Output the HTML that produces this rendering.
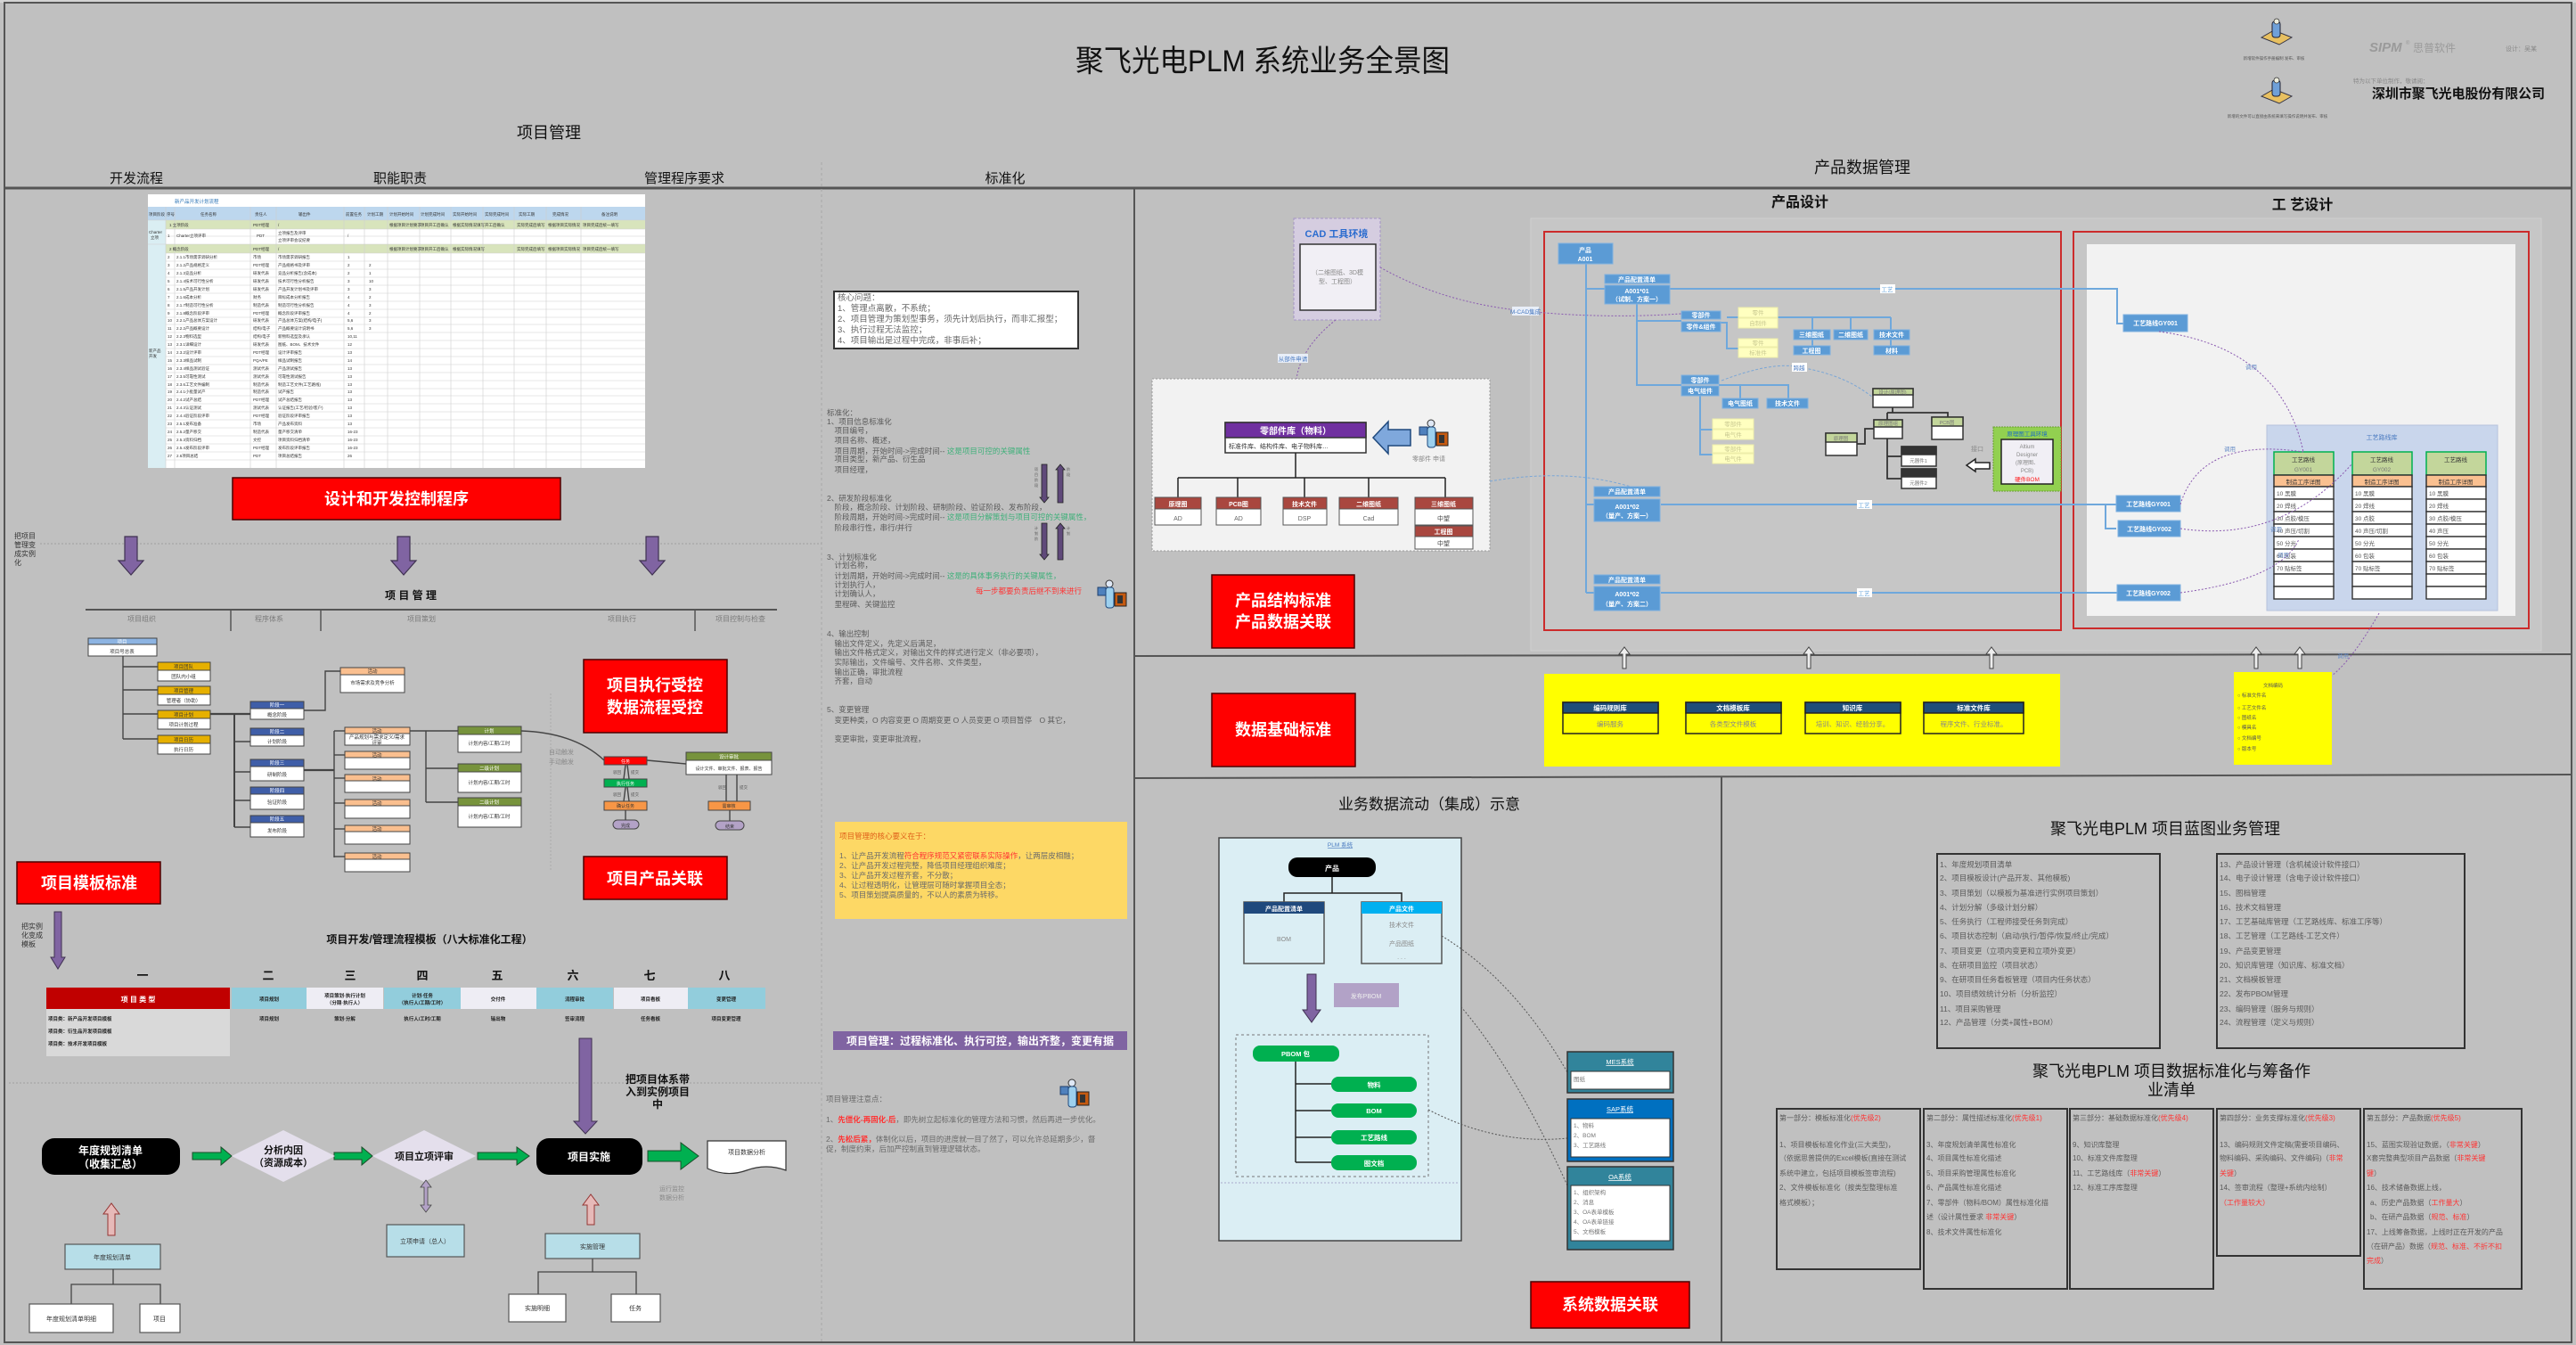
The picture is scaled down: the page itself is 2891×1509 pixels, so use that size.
<!DOCTYPE html>
<html><head><meta charset="utf-8"><title>聚飞光电PLM 系统业务全景图</title>
<style>
html,body{margin:0;padding:0;background:#c0c0c0;}
svg{display:block;}
text{font-family:"Liberation Sans","Noto Sans CJK SC",sans-serif;}
.w{fill:#fff;font-weight:bold;}
.g{fill:#666;}
.sm{font-size:8.5px;fill:#5a5a5a;}
.r{fill:#ff3333;}
.gr{fill:#3fb07a;}
.bt{fill:#fff;font-size:7px;}
</style></head><body>
<svg width="2891" height="1509" viewBox="0 0 2891 1509" xmlns="http://www.w3.org/2000/svg">
<defs>
<g id="person">
 <rect x="0" y="9" width="9" height="9" fill="#4f81bd" stroke="#1f3f6d" stroke-width="1"/>
 <circle cx="13" cy="5" r="4" fill="#dfe8f5" stroke="#333" stroke-width="1"/>
 <rect x="9" y="9" width="9" height="23" rx="3" fill="#9dd0ee" stroke="#1f497d" stroke-width="1"/>
 <rect x="19" y="15" width="13" height="15" fill="#c55a11" stroke="#222" stroke-width="1"/>
 <rect x="22" y="18" width="6" height="9" fill="#333"/>
</g>
<g id="logo">
 <polygon points="0,20 14,12 34,20 20,28" fill="#e8c060" stroke="#334" stroke-width="1"/>
 <rect x="12" y="2" width="9" height="18" rx="3" fill="#6fa0d8" stroke="#223" stroke-width="1"/>
 <circle cx="17" cy="2" r="3" fill="#eed" stroke="#333" stroke-width="0.8"/>
</g>
</defs>

<rect x="0" y="0" width="2891" height="1509" fill="#c0c0c0"/>
<rect x="0" y="0" width="2891" height="3" fill="#d4d4d4"/>
<rect x="5" y="3" width="2881" height="1503" fill="none" stroke="#555" stroke-width="2"/>

<!-- ===== HEADER ===== -->
<text x="1207" y="80" font-size="34" fill="#111" textLength="420" lengthAdjust="spacingAndGlyphs">聚飞光电PLM 系统业务全景图</text>
<text x="616" y="155" font-size="18" fill="#111" text-anchor="middle">项目管理</text>
<text x="2090" y="194" font-size="18" fill="#111" text-anchor="middle">产品数据管理</text>
<text x="153" y="205" font-size="15" fill="#111" text-anchor="middle">开发流程</text>
<text x="449" y="205" font-size="15" fill="#111" text-anchor="middle">职能职责</text>
<text x="768" y="205" font-size="15" fill="#111" text-anchor="middle">管理程序要求</text>
<text x="1128" y="205" font-size="15" fill="#111" text-anchor="middle">标准化</text>
<line x1="5" y1="211" x2="2886" y2="211" stroke="#555" stroke-width="3"/>
<text x="2020" y="232" font-size="16" font-weight="bold" fill="#111" text-anchor="middle">产品设计</text>
<text x="2584" y="235" font-size="16" font-weight="bold" fill="#111" text-anchor="middle">工 艺设计</text>

<!-- top right -->
<use href="#logo" x="2538" y="22"/>
<text x="2552" y="67" font-size="4.5" fill="#555" text-anchor="middle">新增软件操作手册编制 发布、审核</text>
<use href="#logo" x="2538" y="88"/>
<text x="2556" y="132" font-size="4.5" fill="#555" text-anchor="middle">新增的文件可以直接由系统来填写操作说明并发布、审核</text>
<text x="2659" y="58" font-size="15" font-style="italic" font-weight="bold" fill="#9a9a9a">SIPM</text>
<text x="2700" y="50" font-size="6" fill="#9a9a9a">®</text>
<text x="2708" y="58" font-size="12" fill="#9a9a9a">思普软件</text>
<text x="2812" y="57" font-size="7" fill="#888">设计：吴某</text>
<text x="2641" y="93" font-size="6.5" fill="#888">特为以下单位制作，敬请阅：</text>
<text x="2662" y="110" font-size="15" font-weight="bold" fill="#111" font-family="Liberation Serif,Noto Serif CJK SC,serif" textLength="194" lengthAdjust="spacingAndGlyphs">深圳市聚飞光电股份有限公司</text>

<!-- structural lines -->
<line x1="922" y1="182" x2="922" y2="1506" stroke="#a8a8a8" stroke-width="1" stroke-dasharray="3,3"/>
<line x1="1273" y1="211" x2="1273" y2="1506" stroke="#555" stroke-width="2"/>
<line x1="1273" y1="736" x2="2886" y2="734" stroke="#555" stroke-width="2"/>
<line x1="1273" y1="873" x2="2886" y2="869" stroke="#555" stroke-width="2"/>
<line x1="1932" y1="872" x2="1932" y2="1506" stroke="#555" stroke-width="2"/>

<!-- ===== TABLE ===== -->
<rect x="166" y="218" width="558" height="307" fill="#fff"/>
<text x="196" y="228" font-size="5.5" fill="#2e75b6">新产品开发计划流程</text>
<rect x="166" y="232" width="558" height="15" fill="#bdd7ee"/>
<rect x="166" y="247" width="20" height="278" fill="#daeef3"/>
<rect x="186" y="247" width="538" height="10" fill="#d8e4bc"/>
<rect x="186" y="274" width="538" height="10" fill="#d8e4bc"/>
<g stroke="#cfcfcf" stroke-width="0.6">
<line x1="186" y1="232" x2="186" y2="525"/><line x1="196" y1="232" x2="196" y2="525"/><line x1="281" y1="232" x2="281" y2="525"/><line x1="310" y1="232" x2="310" y2="525"/><line x1="386" y1="232" x2="386" y2="525"/><line x1="409" y1="232" x2="409" y2="525"/><line x1="435" y1="232" x2="435" y2="525"/><line x1="471" y1="232" x2="471" y2="525"/><line x1="506" y1="232" x2="506" y2="525"/><line x1="542" y1="232" x2="542" y2="525"/><line x1="577" y1="232" x2="577" y2="525"/><line x1="613" y1="232" x2="613" y2="525"/><line x1="652" y1="232" x2="652" y2="525"/>
<line x1="166" y1="247" x2="724" y2="247"/><line x1="186" y1="257" x2="724" y2="257"/><line x1="186" y1="265" x2="724" y2="265"/><line x1="166" y1="274" x2="724" y2="274"/><line x1="186" y1="284" x2="724" y2="284"/>
<line x1="186" y1="293" x2="724" y2="293"/><line x1="186" y1="302" x2="724" y2="302"/><line x1="186" y1="311" x2="724" y2="311"/><line x1="186" y1="320" x2="724" y2="320"/><line x1="186" y1="329" x2="724" y2="329"/><line x1="186" y1="338" x2="724" y2="338"/><line x1="186" y1="347" x2="724" y2="347"/><line x1="186" y1="356" x2="724" y2="356"/><line x1="186" y1="364" x2="724" y2="364"/><line x1="186" y1="373" x2="724" y2="373"/><line x1="186" y1="382" x2="724" y2="382"/><line x1="186" y1="391" x2="724" y2="391"/><line x1="186" y1="400" x2="724" y2="400"/><line x1="186" y1="409" x2="724" y2="409"/><line x1="186" y1="418" x2="724" y2="418"/><line x1="186" y1="427" x2="724" y2="427"/><line x1="186" y1="436" x2="724" y2="436"/><line x1="186" y1="444" x2="724" y2="444"/><line x1="186" y1="453" x2="724" y2="453"/><line x1="186" y1="462" x2="724" y2="462"/><line x1="186" y1="471" x2="724" y2="471"/><line x1="186" y1="480" x2="724" y2="480"/><line x1="186" y1="489" x2="724" y2="489"/><line x1="186" y1="498" x2="724" y2="498"/><line x1="186" y1="507" x2="724" y2="507"/><line x1="186" y1="516" x2="724" y2="516"/>
</g>
<g font-size="4.5" fill="#333">
<text x="167" y="242">项目阶段</text><text x="187" y="242">序号</text><text x="225" y="242">任务名称</text><text x="286" y="242">责任人</text><text x="335" y="242">输出件</text><text x="388" y="242">前置任务</text><text x="412" y="242">计划工期</text><text x="437" y="242">计划开始时间</text><text x="472" y="242">计划完成时间</text><text x="508" y="242">实际开始时间</text><text x="544" y="242">实际完成时间</text><text x="582" y="242">实际工期</text><text x="620" y="242">完成情况</text><text x="675" y="242">备注说明</text>
<text x="190" y="254">1 立项阶段</text><text x="284" y="254">PDT经理</text><text x="312" y="254">/</text><text x="437" y="254">根据项目计划要求</text><text x="472" y="254">项目开工后确认</text><text x="508" y="254">根据实际情况填写</text><text x="544" y="254">开工后确认</text><text x="580" y="254">实际完成后填写</text><text x="615" y="254">根据项目实际情况</text><text x="654" y="254">项目完成后统一填写</text>
<text x="167" y="262">Charter</text><text x="169" y="268">立项</text><text x="188" y="266">1</text><text x="198" y="266">Charter立项评审</text><text x="288" y="266">PDT</text><text x="312" y="263">立项报告及评审</text><text x="312" y="271">立项评审会议纪要</text><text x="390" y="266">/</text>
<text x="190" y="281">2 概念阶段</text><text x="284" y="281">PDT经理</text><text x="312" y="281">/</text><text x="437" y="281">根据项目计划要求</text><text x="472" y="281">项目开工后确认</text><text x="508" y="281">根据实际情况填写</text><text x="580" y="281">实际完成后填写</text><text x="615" y="281">根据项目实际情况</text><text x="654" y="281">项目完成后统一填写</text>
<text x="188" y="290">2</text><text x="198" y="290">2.1.1市场需求调研分析</text><text x="284" y="290">市场</text><text x="312" y="290">市场需求调研报告</text><text x="390" y="290">1</text>
<text x="188" y="299">3</text><text x="198" y="299">2.1.2产品规格定义</text><text x="284" y="299">PDT经理</text><text x="312" y="299">产品规格书及评审</text><text x="390" y="299">2</text><text x="414" y="299">2</text>
<text x="188" y="308">4</text><text x="198" y="308">2.1.3竞品分析</text><text x="284" y="308">研发代表</text><text x="312" y="308">竞品分析报告(含成本)</text><text x="390" y="308">2</text><text x="414" y="308">1</text>
<text x="188" y="317">5</text><text x="198" y="317">2.1.4技术可行性分析</text><text x="284" y="317">研发代表</text><text x="312" y="317">技术可行性分析报告</text><text x="390" y="317">3</text><text x="414" y="317">10</text>
<text x="188" y="326">6</text><text x="198" y="326">2.1.5产品开发计划</text><text x="284" y="326">研发代表</text><text x="312" y="326">产品开发计划书及评审</text><text x="390" y="326">3</text><text x="414" y="326">3</text>
<text x="188" y="335">7</text><text x="198" y="335">2.1.6成本分析</text><text x="284" y="335">财务</text><text x="312" y="335">目标成本分析报告</text><text x="390" y="335">4</text><text x="414" y="335">2</text>
<text x="188" y="344">8</text><text x="198" y="344">2.1.7制造可行性分析</text><text x="284" y="344">制造代表</text><text x="312" y="344">制造可行性分析报告</text><text x="390" y="344">4</text><text x="414" y="344">3</text>
<text x="188" y="353">9</text><text x="198" y="353">2.1.8概念阶段评审</text><text x="284" y="353">PDT经理</text><text x="312" y="353">概念阶段评审报告</text><text x="390" y="353">4</text><text x="414" y="353">2</text>
<text x="188" y="361">10</text><text x="198" y="361">2.2.1产品总体方案设计</text><text x="284" y="361">研发代表</text><text x="312" y="361">产品总体方案(结构/电子)</text><text x="390" y="361">5,6</text><text x="414" y="361">3</text>
<text x="188" y="370">11</text><text x="198" y="370">2.2.2产品概要设计</text><text x="284" y="370">结构/电子</text><text x="312" y="370">产品概要设计说明书</text><text x="390" y="370">5,6</text><text x="414" y="370">3</text>
<text x="188" y="379">12</text><text x="198" y="379">2.2.3物料选型</text><text x="284" y="379">结构/电子</text><text x="312" y="379">新物料选型及承认</text><text x="390" y="379">10,11</text>
<text x="188" y="388">13</text><text x="198" y="388">2.3.1详细设计</text><text x="284" y="388">研发代表</text><text x="312" y="388">图纸、BOM、技术文件</text><text x="390" y="388">12</text>
<text x="188" y="397">14</text><text x="198" y="397">2.3.2设计评审</text><text x="284" y="397">PDT经理</text><text x="312" y="397">设计评审报告</text><text x="390" y="397">13</text>
<text x="188" y="406">15</text><text x="198" y="406">2.3.3样品试制</text><text x="284" y="406">PQA/PE</text><text x="312" y="406">样品试制报告</text><text x="390" y="406">14</text>
<text x="188" y="415">16</text><text x="198" y="415">2.3.4样品测试验证</text><text x="284" y="415">测试代表</text><text x="312" y="415">产品测试报告</text><text x="390" y="415">13</text>
<text x="188" y="424">17</text><text x="198" y="424">2.3.5可靠性测试</text><text x="284" y="424">测试代表</text><text x="312" y="424">可靠性测试报告</text><text x="390" y="424">13</text>
<text x="188" y="433">18</text><text x="198" y="433">2.3.6工艺文件编制</text><text x="284" y="433">制造代表</text><text x="312" y="433">制造工艺文件(工艺路线)</text><text x="390" y="433">13</text>
<text x="188" y="441">19</text><text x="198" y="441">2.4.1小批量试产</text><text x="284" y="441">制造代表</text><text x="312" y="441">试产报告</text><text x="390" y="441">13</text>
<text x="188" y="450">20</text><text x="198" y="450">2.4.2试产总结</text><text x="284" y="450">PDT经理</text><text x="312" y="450">试产总结报告</text><text x="390" y="450">13</text>
<text x="188" y="459">21</text><text x="198" y="459">2.4.3认证测试</text><text x="284" y="459">测试代表</text><text x="312" y="459">认证报告(工艺/检验/客户)</text><text x="390" y="459">13</text>
<text x="188" y="468">22</text><text x="198" y="468">2.4.4验证阶段评审</text><text x="284" y="468">PDT经理</text><text x="312" y="468">验证阶段评审报告</text><text x="390" y="468">13</text>
<text x="188" y="477">23</text><text x="198" y="477">2.5.1发布准备</text><text x="284" y="477">市场</text><text x="312" y="477">产品发布资料</text><text x="390" y="477">13</text>
<text x="188" y="486">24</text><text x="198" y="486">2.5.2量产移交</text><text x="284" y="486">制造代表</text><text x="312" y="486">量产移交清单</text><text x="390" y="486">16-23</text>
<text x="188" y="495">25</text><text x="198" y="495">2.5.3资料归档</text><text x="284" y="495">文控</text><text x="312" y="495">项目资料归档清单</text><text x="390" y="495">16-23</text>
<text x="188" y="504">26</text><text x="198" y="504">2.5.4发布阶段评审</text><text x="284" y="504">PDT经理</text><text x="312" y="504">发布阶段评审报告</text><text x="390" y="504">16-23</text>
<text x="188" y="513">27</text><text x="198" y="513">2.6项目总结</text><text x="284" y="513">PDT</text><text x="312" y="513">项目总结报告</text><text x="390" y="513">26</text>
<text x="167" y="395">新产品</text><text x="167" y="401">开发</text>
</g>

<!-- ===== LEFT: red control box ===== -->
<rect x="261" y="536" width="368" height="47" fill="#ff0000" stroke="#4a0000" stroke-width="1.5"/>
<text x="445" y="566" font-size="18" class="w" text-anchor="middle">设计和开发控制程序</text>

<g font-size="8" fill="#333"><text x="16" y="604">把项目</text><text x="16" y="614">管理变</text><text x="16" y="624">成实例</text><text x="16" y="634">化</text></g>
<line x1="45" y1="610" x2="922" y2="610" stroke="#a0a0a0" stroke-dasharray="2,2"/>
<g fill="#8064a2" stroke="#3f3151" stroke-width="1.2">
<polygon points="140,602 154,602 154,629 161,629 147,645 133,629 140,629"/>
<polygon points="446,602 460,602 460,629 467,629 453,645 439,629 446,629"/>
<polygon points="725,602 739,602 739,629 746,629 732,645 718,629 725,629"/>
</g>
<text x="461" y="672" font-size="12" font-weight="bold" fill="#111" text-anchor="middle">项 目 管 理</text>
<line x1="96" y1="684" x2="872" y2="684" stroke="#555" stroke-width="2"/>
<g stroke="#555" stroke-width="1.5"><line x1="259" y1="684" x2="259" y2="708"/><line x1="360" y1="684" x2="360" y2="708"/><line x1="780" y1="684" x2="780" y2="708"/></g>
<g font-size="8" fill="#7a7a7a" text-anchor="middle"><text x="159" y="697">项目组织</text><text x="302" y="697">程序体系</text><text x="473" y="697">项目策划</text><text x="698" y="697">项目执行</text><text x="831" y="697">项目控制与检查</text></g>
<line x1="618" y1="778" x2="618" y2="977" stroke="#aaa" stroke-dasharray="2,2"/>

<!-- tree lines -->
<g stroke="#444" stroke-width="1.4" fill="none">
<polyline points="138,736 138,829"/>
<line x1="138" y1="748" x2="177" y2="748"/><line x1="138" y1="774" x2="177" y2="774"/><line x1="138" y1="801" x2="177" y2="801"/><line x1="138" y1="829" x2="177" y2="829"/>
<line x1="236" y1="801" x2="281" y2="801" stroke-width="2.2"/>
<line x1="263" y1="801" x2="263" y2="928" stroke-width="2"/>
<line x1="263" y1="832" x2="281" y2="832"/><line x1="263" y1="866" x2="281" y2="866"/><line x1="263" y1="898" x2="281" y2="898"/><line x1="263" y1="928" x2="281" y2="928"/>
<polyline points="341,797 365,797 365,753 382,753"/>
<line x1="341" y1="864" x2="375" y2="864" stroke-width="2.2"/>
<line x1="375" y1="820" x2="375" y2="962"/>
<line x1="375" y1="820" x2="387" y2="820"/><line x1="375" y1="847" x2="387" y2="847"/><line x1="375" y1="873" x2="387" y2="873"/><line x1="375" y1="901" x2="387" y2="901"/><line x1="375" y1="930" x2="387" y2="930"/><line x1="375" y1="961" x2="387" y2="961"/>
<line x1="460" y1="820" x2="514" y2="820"/><line x1="478" y1="820" x2="478" y2="900"/><line x1="478" y1="862" x2="514" y2="862"/><line x1="478" y1="900" x2="514" y2="900"/>
<path d="M585 820 Q645 822 678 853"/>
<line x1="726" y1="853" x2="770" y2="857"/>
<line x1="700" y1="874" x2="702" y2="858"/><line x1="706" y1="874" x2="704" y2="858"/>
<line x1="700" y1="899" x2="702" y2="883"/><line x1="706" y1="899" x2="704" y2="883"/>
<line x1="702" y1="909" x2="702" y2="920"/>
<line x1="815" y1="869" x2="815" y2="899"/><line x1="827" y1="899" x2="827" y2="869"/>
<line x1="819" y1="909" x2="819" y2="921"/>
</g>
<!-- tree boxes -->
<g stroke="#444" stroke-width="1">
<rect x="99" y="716" width="77" height="20" fill="#fff"/><rect x="99" y="716" width="77" height="7" fill="#8db4e2"/>
<rect x="177" y="743" width="59" height="21" fill="#fff"/><rect x="177" y="743" width="59" height="9" fill="#e6b000"/>
<rect x="177" y="770" width="59" height="21" fill="#fff"/><rect x="177" y="770" width="59" height="9" fill="#e6b000"/>
<rect x="177" y="797" width="59" height="21" fill="#fff"/><rect x="177" y="797" width="59" height="9" fill="#e6b000"/>
<rect x="177" y="825" width="59" height="21" fill="#fff"/><rect x="177" y="825" width="59" height="9" fill="#e6b000"/>
<rect x="281" y="787" width="60" height="20" fill="#fff"/><rect x="281" y="787" width="60" height="8" fill="#3f5ea8"/>
<rect x="281" y="817" width="60" height="20" fill="#fff"/><rect x="281" y="817" width="60" height="8" fill="#3f5ea8"/>
<rect x="281" y="852" width="60" height="24" fill="#fff"/><rect x="281" y="852" width="60" height="8" fill="#3f5ea8"/>
<rect x="281" y="883" width="60" height="25" fill="#fff"/><rect x="281" y="883" width="60" height="8" fill="#3f5ea8"/>
<rect x="281" y="915" width="60" height="24" fill="#fff"/><rect x="281" y="915" width="60" height="8" fill="#3f5ea8"/>
<rect x="382" y="749" width="72" height="28" fill="#fff"/><rect x="382" y="749" width="72" height="8" fill="#fabf8f"/>
<rect x="387" y="816" width="73" height="20" fill="#fff"/><rect x="387" y="816" width="73" height="7" fill="#fabf8f"/>
<rect x="387" y="843" width="73" height="20" fill="#fff"/><rect x="387" y="843" width="73" height="7" fill="#fabf8f"/>
<rect x="387" y="869" width="73" height="20" fill="#fff"/><rect x="387" y="869" width="73" height="7" fill="#fabf8f"/>
<rect x="387" y="897" width="73" height="21" fill="#fff"/><rect x="387" y="897" width="73" height="7" fill="#fabf8f"/>
<rect x="387" y="926" width="73" height="21" fill="#fff"/><rect x="387" y="926" width="73" height="7" fill="#fabf8f"/>
<rect x="387" y="957" width="73" height="21" fill="#fff"/><rect x="387" y="957" width="73" height="7" fill="#fabf8f"/>
<rect x="514" y="815" width="71" height="29" fill="#fff"/><rect x="514" y="815" width="71" height="9" fill="#77933c"/>
<rect x="514" y="857" width="71" height="32" fill="#fff"/><rect x="514" y="857" width="71" height="9" fill="#77933c"/>
<rect x="514" y="895" width="71" height="33" fill="#fff"/><rect x="514" y="895" width="71" height="9" fill="#77933c"/>
<rect x="678" y="849" width="48" height="9" fill="#ff0000"/>
<rect x="678" y="874" width="48" height="9" fill="#00b050"/>
<rect x="678" y="899" width="48" height="10" fill="#f79646"/>
<rect x="688" y="920" width="29" height="10" rx="5" fill="#b3a2c7"/>
<rect x="770" y="844" width="96" height="25" fill="#fff"/><rect x="770" y="844" width="96" height="9" fill="#77933c"/>
<rect x="795" y="899" width="47" height="10" fill="#f79646"/>
<rect x="803" y="921" width="32" height="10" rx="5" fill="#b3a2c7"/>
</g>
<g font-size="5.5" fill="#333" text-anchor="middle">
<text x="137" y="722" fill="#fff">项目</text><text x="137" y="733">项目号总表</text>
<text x="206" y="750">项目团队</text><text x="206" y="761">团队内小组</text>
<text x="206" y="777">项目管理</text><text x="206" y="788">管理者（协助）</text>
<text x="206" y="804">项目计划</text><text x="206" y="815">项目计划过程</text>
<text x="206" y="832">项目日历</text><text x="206" y="843">执行日历</text>
<text x="311" y="793" fill="#fff">阶段一</text><text x="311" y="804">概念阶段</text>
<text x="311" y="823" fill="#fff">阶段二</text><text x="311" y="834">计划阶段</text>
<text x="311" y="858" fill="#fff">阶段三</text><text x="311" y="871">研制阶段</text>
<text x="311" y="889" fill="#fff">阶段四</text><text x="311" y="902">验证阶段</text>
<text x="311" y="921" fill="#fff">阶段五</text><text x="311" y="934">发布阶段</text>
<text x="418" y="755">活动</text><text x="418" y="768">市场需求及竞争分析</text>
<text x="423" y="822">活动</text><text x="423" y="829">产品规划与需求定义/需求</text><text x="423" y="835">评审</text>
<text x="423" y="849">活动</text><text x="423" y="876">活动</text><text x="423" y="903">活动</text><text x="423" y="932">活动</text><text x="423" y="963">活动</text>
<text x="549" y="822" fill="#fff">计划</text><text x="549" y="836">计划内容/工期/工时</text>
<text x="549" y="864" fill="#fff">二级计划</text><text x="549" y="880">计划内容/工期/工时</text>
<text x="549" y="902" fill="#fff">二级计划</text><text x="549" y="918">计划内容/工期/工时</text>
<text x="702" y="856" fill="#fff" font-size="5">任务</text><text x="702" y="881" fill="#fff" font-size="5">执行任务</text><text x="702" y="906" font-size="5">确认任务</text><text x="702" y="928" font-size="5">完成</text>
<text x="818" y="851" fill="#fff">设计审批</text><text x="818" y="864" font-size="5">设计文件、审批文件、报表、报告</text>
<text x="818" y="906" font-size="5">需审核</text><text x="819" y="929" font-size="5">结束</text>
</g>
<g font-size="7" fill="#8a8a8a"><text x="616" y="846">自动触发</text><text x="616" y="857">手动触发</text></g>
<g font-size="4.5" fill="#555"><text x="688" y="868">驳回</text><text x="708" y="868">提交</text><text x="688" y="893">驳回</text><text x="708" y="893">提交</text><text x="806" y="885">驳回</text><text x="830" y="885">提交</text></g>

<rect x="655" y="740" width="161" height="82" fill="#ff0000" stroke="#4a0000" stroke-width="1.5"/>
<text x="735" y="775" font-size="18" class="w" text-anchor="middle">项目执行受控</text>
<text x="735" y="800" font-size="18" class="w" text-anchor="middle">数据流程受控</text>
<rect x="655" y="961" width="161" height="48" fill="#ff0000" stroke="#4a0000" stroke-width="1.5"/>
<text x="735" y="992" font-size="18" class="w" text-anchor="middle">项目产品关联</text>
<rect x="19" y="967" width="161" height="47" fill="#ff0000" stroke="#4a0000" stroke-width="1.5"/>
<text x="100" y="997" font-size="18" class="w" text-anchor="middle">项目模板标准</text>

<polygon points="61,1023 69,1023 69,1074 73,1074 65,1087 57,1074 61,1074" fill="#8064a2" stroke="#3f3151"/>
<g font-size="8" fill="#333"><text x="24" y="1042">把实例</text><text x="24" y="1052">化变成</text><text x="24" y="1062">模板</text></g>

<text x="482" y="1058" font-size="12" font-weight="bold" fill="#111" text-anchor="middle">项目开发/管理流程模板（八大标准化工程）</text>
<g font-size="13" font-weight="bold" fill="#111" text-anchor="middle">
<text x="160" y="1099">一</text><text x="301" y="1099">二</text><text x="393" y="1099">三</text><text x="474" y="1099">四</text><text x="558" y="1099">五</text><text x="643" y="1099">六</text><text x="729" y="1099">七</text><text x="813" y="1099">八</text></g>
<rect x="52" y="1108" width="206" height="24" fill="#c00000"/>
<rect x="260" y="1108" width="84" height="24" fill="#92cddc"/>
<rect x="344" y="1108" width="86" height="24" fill="#eeedf4"/>
<rect x="431" y="1108" width="86" height="24" fill="#92cddc"/>
<rect x="517" y="1108" width="85" height="24" fill="#eeedf4"/>
<rect x="602" y="1108" width="86" height="24" fill="#92cddc"/>
<rect x="689" y="1108" width="83" height="24" fill="#eeedf4"/>
<rect x="772" y="1108" width="87" height="24" fill="#92cddc"/>
<rect x="52" y="1132" width="206" height="53" fill="#d9d9d9"/>
<text x="155" y="1124" font-size="8" class="w" text-anchor="middle">项 目 类 型</text>
<g font-size="5.5" fill="#222" text-anchor="middle" font-weight="bold">
<text x="302" y="1123">项目规划</text><text x="387" y="1119">项目策划·执行计划</text><text x="387" y="1127">（分期·执行人）</text><text x="474" y="1119">计划·任务</text><text x="474" y="1127">（执行人/工期/工时）</text><text x="559" y="1123">交付件</text><text x="645" y="1123">流程审批</text><text x="730" y="1123">项目看板</text><text x="815" y="1123">变更管理</text>
<text x="302" y="1145">项目规划</text><text x="387" y="1145">策划·分解</text><text x="474" y="1145">执行人/工时/工期</text><text x="559" y="1145">输出物</text><text x="645" y="1145">签审流程</text><text x="730" y="1145">任务看板</text><text x="815" y="1145">项目变更管理</text>
</g>
<g font-size="5.5" fill="#222" font-weight="bold"><text x="54" y="1145">项目类：新产品开发项目模板</text><text x="54" y="1159">项目类：衍生品开发项目模板</text><text x="54" y="1173">项目类：技术开发项目模板</text></g>

<line x1="10" y1="1215" x2="922" y2="1215" stroke="#a0a0a0" stroke-dasharray="2,2"/>
<polygon points="650,1165 664,1165 664,1258 670,1258 657,1272 644,1258 650,1258" fill="#8064a2" stroke="#3f3151"/>
<g font-size="12" font-weight="bold" fill="#111" text-anchor="middle"><text x="738" y="1215">把项目体系带</text><text x="738" y="1229">入到实例项目</text><text x="738" y="1243">中</text></g>

<!-- flow -->
<rect x="47" y="1277" width="155" height="41" rx="14" fill="#000"/>
<text x="124" y="1295" font-size="12" class="w" text-anchor="middle">年度规划清单</text>
<text x="124" y="1310" font-size="12" class="w" text-anchor="middle">（收集汇总）</text>
<g fill="#00b050" stroke="#1d4d2a" stroke-width="1">
<polygon points="216,1293 248,1293 248,1287 260,1297 248,1307 248,1301 216,1301"/>
<polygon points="375,1293 406,1293 406,1287 418,1297 406,1307 406,1301 375,1301"/>
<polygon points="536,1293 580,1293 580,1287 594,1297 580,1307 580,1301 536,1301"/>
<polygon points="727,1291 764,1291 764,1282 784,1297 764,1312 764,1303 727,1303"/>
</g>
<polygon points="318,1268 376,1297 318,1326 260,1297" fill="#e4dfec"/>
<text x="318" y="1294" font-size="11" font-weight="bold" fill="#111" text-anchor="middle">分析内因</text>
<text x="318" y="1308" font-size="11" font-weight="bold" fill="#111" text-anchor="middle">（资源成本）</text>
<polygon points="476,1268 534,1297 476,1326 418,1297" fill="#e4dfec"/>
<text x="476" y="1301" font-size="11" font-weight="bold" fill="#111" text-anchor="middle">项目立项评审</text>
<rect x="602" y="1277" width="119" height="41" rx="14" fill="#000"/>
<text x="661" y="1302" font-size="12" class="w" text-anchor="middle">项目实施</text>
<path d="M794 1280 H882 V1313 Q860 1305 838 1313 Q816 1321 794 1311 Z" fill="#fff" stroke="#333" stroke-width="1.2"/>
<text x="838" y="1295" font-size="7" fill="#333" text-anchor="middle">项目数据分析</text>
<g font-size="7" fill="#8a8a8a"><text x="740" y="1336">运行监控</text><text x="740" y="1346">数据分析</text></g>
<g fill="#e6b9b8" stroke="#943634" stroke-width="1">
<polygon points="121,1386 129,1386 129,1362 134,1362 125,1350 116,1362 121,1362"/>
<polygon points="659,1374 667,1374 667,1352 672,1352 663,1340 654,1352 659,1352"/>
</g>
<polygon points="478,1324 484,1332 480,1332 480,1352 484,1352 478,1360 472,1352 476,1352 476,1332 472,1332" fill="#b3a2c7" stroke="#444" stroke-width="0.8"/>
<rect x="434" y="1374" width="87" height="36" fill="#b7dee8" stroke="#555" stroke-width="1.2"/>
<text x="477" y="1395" font-size="7" fill="#333" text-anchor="middle">立项申请（总人）</text>
<rect x="73" y="1396" width="107" height="28" fill="#b7dee8" stroke="#555" stroke-width="1.2"/>
<text x="126" y="1413" font-size="7" fill="#333" text-anchor="middle">年度规划清单</text>
<g stroke="#444" stroke-width="1.3" fill="none"><polyline points="127,1424 127,1441"/><polyline points="80,1463 80,1441 180,1441 180,1463"/><polyline points="665,1412 665,1427"/><polyline points="604,1452 604,1427 714,1427 714,1452"/></g>
<rect x="33" y="1463" width="94" height="32" fill="#fff" stroke="#555" stroke-width="1.2"/>
<text x="80" y="1482" font-size="7" fill="#333" text-anchor="middle">年度规划清单明细</text>
<rect x="157" y="1463" width="45" height="32" fill="#fff" stroke="#555" stroke-width="1.2"/>
<text x="179" y="1482" font-size="7" fill="#333" text-anchor="middle">项目</text>
<rect x="612" y="1384" width="106" height="28" fill="#b7dee8" stroke="#555" stroke-width="1.2"/>
<text x="665" y="1401" font-size="7" fill="#333" text-anchor="middle">实施管理</text>
<rect x="571" y="1452" width="64" height="31" fill="#fff" stroke="#555" stroke-width="1.2"/>
<text x="603" y="1470" font-size="7" fill="#333" text-anchor="middle">实施明细</text>
<rect x="686" y="1452" width="55" height="31" fill="#fff" stroke="#555" stroke-width="1.2"/>
<text x="713" y="1470" font-size="7" fill="#333" text-anchor="middle">任务</text>

<!-- ===== MIDDLE: standardization ===== -->
<rect x="936" y="327" width="274" height="64" fill="#fff" stroke="#333" stroke-width="2"/>
<g font-size="9.5" fill="#666"><text x="940" y="337">核心问题：</text><text x="940" y="349">1、管理点离散，不系统；</text><text x="940" y="361">2、项目管理为策划型事务，须先计划后执行，而非汇报型；</text><text x="940" y="373">3、执行过程无法监控；</text><text x="940" y="385">4、项目输出是过程中完成，非事后补；</text></g>
<g class="sm">
<text x="928" y="466">标准化：</text>
<text x="928" y="476">1、项目信息标准化</text>
<text x="928" y="486">　项目编号，</text>
<text x="928" y="497">　项目名称、概述，</text>
<text x="928" y="509">　项目周期，开始时间-&gt;完成时间-- <tspan class="gr">这是项目可控的关键属性</tspan></text>
<text x="928" y="518">　项目类型，新产品、衍生品</text>
<text x="928" y="530">　项目经理，</text>
<text x="928" y="562">2、研发阶段标准化</text>
<text x="928" y="572">　阶段，概念阶段、计划阶段、研制阶段、验证阶段、发布阶段，</text>
<text x="928" y="583">　阶段周期，开始时间-&gt;完成时间-- <tspan class="gr">这是项目分解策划与项目可控的关键属性，</tspan></text>
<text x="928" y="595">　阶段串行性，串行/并行</text>
<text x="928" y="628">3、计划标准化</text>
<text x="928" y="637">　计划名称，</text>
<text x="928" y="649">　计划周期，开始时间-&gt;完成时间-- <tspan class="gr">这是的具体事务执行的关键属性，</tspan></text>
<text x="928" y="659">　计划执行人，</text>
<text x="928" y="669">　计划确认人，</text>
<text x="928" y="681">　里程碑、关键监控</text>
<text x="928" y="714">4、输出控制</text>
<text x="928" y="725">　输出文件定义，先定义后满足，</text>
<text x="928" y="735">　输出文件格式定义，对输出文件的样式进行定义（非必要项），</text>
<text x="928" y="746">　实际输出，文件编号、文件名称、文件类型，</text>
<text x="928" y="757">　输出正确，审批流程</text>
<text x="928" y="767">　齐套，自动</text>
<text x="928" y="799">5、变更管理</text>
<text x="928" y="811">　变更种类，O 内容变更 O 周期变更 O 人员变更 O 项目暂停　O 其它，</text>
<text x="928" y="832">　变更审批，变更审批流程，</text>
</g>
<text x="1095" y="666" font-size="8.5" class="r">每一步都要负责后继不到来进行</text>
<g fill="#5f497a" stroke="#222" stroke-width="0.8">
<polygon points="1169,521 1175,521 1175,558 1177,558 1172,564 1167,558 1169,558"/>
<polygon points="1187,564 1193,564 1193,527 1195,527 1190,521 1185,527 1187,527"/>
<polygon points="1169,587 1175,587 1175,622 1177,622 1172,628 1167,622 1169,622"/>
<polygon points="1187,628 1193,628 1193,593 1195,593 1190,587 1185,593 1187,593"/>
</g>
<g font-size="4" fill="#555"><text x="1161" y="528">项</text><text x="1161" y="534">目</text><text x="1161" y="540">阶</text><text x="1161" y="546">段</text><text x="1197" y="528">阶</text><text x="1197" y="534">段</text><text x="1161" y="594">计</text><text x="1161" y="600">划</text><text x="1161" y="606">阶</text><text x="1197" y="594">计</text><text x="1197" y="600">划</text></g>
<use href="#person" x="1232" y="650"/>

<rect x="937" y="922" width="328" height="109" fill="#fdd865"/>
<g font-size="8.5" fill="#6a6a6a">
<text x="942" y="941" fill="#e0601a">项目管理的核心要义在于：</text>
<text x="942" y="963">1、让产品开发流程<tspan class="r">符合程序规范又紧密联系实际操作</tspan>，让两层皮相融；</text>
<text x="942" y="974">2、让产品开发过程完整，降低项目经理组织难度；</text>
<text x="942" y="985">3、让产品开发过程齐套，不分散；</text>
<text x="942" y="996">4、让过程透明化，让管理层可随时掌握项目全态；</text>
<text x="942" y="1007">5、项目策划提高质量的，不以人的素质为转移。</text>
</g>
<rect x="935" y="1157" width="330" height="21" fill="#8064a2"/>
<text x="1100" y="1172" font-size="12" class="w" text-anchor="middle">项目管理：过程标准化、执行可控，输出齐整，变更有据</text>
<use href="#person" x="1190" y="1210"/>
<g font-size="8.5" fill="#6a6a6a">
<text x="927" y="1236">项目管理注意点：</text>
<text x="927" y="1259">1、<tspan class="r" font-weight="bold">先僵化-再固化-后</tspan>，即先树立起标准化的管理方法和习惯，然后再进一步优化。</text>
<text x="927" y="1281">2、<tspan class="r" font-weight="bold">先松后紧，</tspan>体制化以后，项目的进度就一目了然了，可以允许总延期多少，督</text>
<text x="927" y="1292">促，制度约束，后加严控制直到管理逻辑状态。</text>
</g>

<!-- ===== PDM TOP ===== -->
<rect x="1718" y="245" width="1134" height="485" fill="#c6c6c6" stroke="#cfcfcf"/>
<rect x="1733" y="260" width="580" height="447" fill="none" stroke="#cc2b2b" stroke-width="2"/>
<rect x="2327" y="260" width="511" height="445" fill="none" stroke="#cc2b2b" stroke-width="2"/>
<rect x="2342" y="274" width="481" height="417" fill="#f2f2f2"/>

<!-- CAD -->
<rect x="1452" y="245" width="97" height="114" fill="#d5cde0" stroke="#a493c4" stroke-dasharray="3,2"/>
<text x="1500" y="266" font-size="11" font-weight="bold" fill="#2b6ccf" text-anchor="middle">CAD 工具环境</text>
<rect x="1459" y="274" width="85" height="74" fill="#f1eff5" stroke="#333" stroke-width="1.5"/>
<text x="1501" y="308" font-size="7" fill="#888" text-anchor="middle">（二维图纸、3D模</text>
<text x="1501" y="318" font-size="7" fill="#888" text-anchor="middle">型、工程图）</text>
<path d="M1549 300 Q1620 340 1712 349 Q1800 358 1887 352" fill="none" stroke="#8a5ab0" stroke-dasharray="2,2" stroke-width="1"/>
<rect x="1697" y="344" width="30" height="10" fill="#e8eef8"/>
<text x="1712" y="352" font-size="6.5" fill="#4a7ac0" text-anchor="middle">M-CAD集成</text>
<path d="M1499 359 Q1460 390 1455 425" fill="none" stroke="#8a5ab0" stroke-dasharray="2,2"/>
<rect x="1434" y="397" width="34" height="10" fill="#e8eef8"/>
<text x="1451" y="405" font-size="6.5" fill="#4a7ac0" text-anchor="middle">从部件申请</text>

<!-- part library panel -->
<rect x="1293" y="425" width="379" height="193" fill="#f2f2f2" stroke="#999" stroke-dasharray="2,2"/>
<rect x="1375" y="474" width="158" height="34" fill="#fff" stroke="#333" stroke-width="1.5"/>
<rect x="1375" y="474" width="158" height="17" fill="#7030a0" stroke="#333" stroke-width="1.5"/>
<text x="1454" y="487" font-size="10" class="w" text-anchor="middle">零部件库（物料）</text>
<text x="1379" y="503" font-size="7" fill="#333">标准件库、结构件库、电子物料库…</text>
<polygon points="1541,491 1558,473 1558,482 1583,482 1583,500 1558,500 1558,509" fill="#7fa8dc" stroke="#1f497d" stroke-width="1.5"/>
<use href="#person" x="1593" y="470"/>
<text x="1585" y="517" font-size="7" fill="#888">零部件 申请</text>
<g stroke="#222" stroke-width="1.5" fill="none"><line x1="1454" y1="508" x2="1454" y2="536"/><line x1="1322" y1="536" x2="1622" y2="536"/>
<line x1="1322" y1="536" x2="1322" y2="558"/><line x1="1389" y1="536" x2="1389" y2="558"/><line x1="1464" y1="536" x2="1464" y2="558"/><line x1="1536" y1="536" x2="1536" y2="558"/><line x1="1622" y1="536" x2="1622" y2="558"/></g>
<g stroke="#555" stroke-width="1">
<rect x="1296" y="558" width="52" height="31" fill="#fff"/><rect x="1296" y="558" width="52" height="13" fill="#a9473f"/>
<rect x="1365" y="558" width="50" height="31" fill="#fff"/><rect x="1365" y="558" width="50" height="13" fill="#a9473f"/>
<rect x="1440" y="558" width="49" height="31" fill="#fff"/><rect x="1440" y="558" width="49" height="13" fill="#a9473f"/>
<rect x="1503" y="558" width="66" height="31" fill="#fff"/><rect x="1503" y="558" width="66" height="13" fill="#a9473f"/>
<rect x="1588" y="558" width="65" height="31" fill="#fff"/><rect x="1588" y="558" width="65" height="13" fill="#a9473f"/>
<rect x="1588" y="590" width="65" height="26" fill="#fff"/><rect x="1588" y="590" width="65" height="12" fill="#a9473f"/>
</g>
<g font-size="7" text-anchor="middle">
<text x="1322" y="568" class="w">原理图</text><text x="1322" y="584" fill="#666">AD</text>
<text x="1390" y="568" class="w">PCB图</text><text x="1390" y="584" fill="#666">AD</text>
<text x="1464" y="568" class="w">技术文件</text><text x="1464" y="584" fill="#666">DSP</text>
<text x="1536" y="568" class="w">二维图纸</text><text x="1536" y="584" fill="#666">Cad</text>
<text x="1620" y="568" class="w">三维图纸</text><text x="1620" y="584" fill="#444">中望</text>
<text x="1620" y="599" class="w">工程图</text><text x="1620" y="612" fill="#444">中望</text>
</g>
<rect x="1360" y="645" width="160" height="82" fill="#ff0000" stroke="#4a0000" stroke-width="1.5"/>
<text x="1440" y="680" font-size="18" class="w" text-anchor="middle">产品结构标准</text>
<text x="1440" y="704" font-size="18" class="w" text-anchor="middle">产品数据关联</text>

<!-- product design inside -->
<g stroke="#6fa8dc" stroke-width="2" fill="none">
<line x1="1780" y1="296" x2="1780" y2="665"/>
<line x1="1780" y1="324" x2="1801" y2="324"/><polyline points="1874,324 2376,324 2376,363 2383,363"/>
<line x1="1780" y1="566" x2="1790" y2="566"/><line x1="1864" y1="566" x2="2375" y2="566"/><polyline points="2363,566 2363,593 2375,593"/>
<line x1="1780" y1="665" x2="1790" y2="665"/><line x1="1864" y1="665" x2="2376" y2="665"/>
<polyline points="1837,341 1837,432 1887,432"/><line x1="1837" y1="360" x2="1887" y2="360"/>
<polyline points="1931,362 1938,362 1938,391 1951,391"/><line x1="1938" y1="356" x2="1951" y2="356"/>
<line x1="1938" y1="356" x2="2122" y2="356"/><line x1="2034" y1="356" x2="2034" y2="370"/><line x1="2077" y1="356" x2="2077" y2="370"/><line x1="2122" y1="356" x2="2122" y2="370"/>
<line x1="2034" y1="381" x2="2034" y2="388"/><line x1="2122" y1="381" x2="2122" y2="388"/>
<polyline points="1929,432 2007,432 2007,447"/><line x1="1953" y1="432" x2="1953" y2="447"/>
<polyline points="1908,444 1908,510 1922,510"/><line x1="1908" y1="482" x2="1922" y2="482"/>
</g>
<path d="M1932 427 Q1990 405 2019 412 Q2070 420 2102 446" fill="none" stroke="#7aa6d6" stroke-dasharray="3,2"/>
<rect x="2011" y="407" width="17" height="10" fill="#fff"/><text x="2019" y="415" font-size="6.5" fill="#4a7ac0" text-anchor="middle">跨越</text>
<path d="M1672 540 Q1760 525 1830 546" fill="none" stroke="#7aa6d6" stroke-dasharray="3,2"/>
<g fill="#5b9bd5" stroke="#7fb0e0" stroke-width="1">
<rect x="1749" y="273" width="61" height="23"/>
<rect x="1801" y="308" width="73" height="10"/><rect x="1801" y="320" width="73" height="21"/>
<rect x="1887" y="349" width="44" height="9"/><rect x="1887" y="361" width="44" height="11"/>
<rect x="2013" y="370" width="41" height="11"/><rect x="2058" y="370" width="38" height="11"/><rect x="2103" y="370" width="40" height="11"/>
<rect x="2013" y="388" width="41" height="10"/><rect x="2103" y="388" width="40" height="10"/>
<rect x="1887" y="421" width="42" height="10"/><rect x="1887" y="433" width="42" height="11"/>
<rect x="1933" y="447" width="40" height="11"/><rect x="1983" y="447" width="46" height="11"/>
<rect x="1789" y="546" width="74" height="11"/><rect x="1789" y="560" width="74" height="25"/>
<rect x="1789" y="645" width="74" height="10"/><rect x="1789" y="658" width="74" height="27"/>
<rect x="2383" y="353" width="72" height="19"/>
<rect x="2375" y="556" width="72" height="18"/><rect x="2377" y="584" width="70" height="18"/>
<rect x="2376" y="656" width="71" height="18"/>
</g>
<g fill="#ffffc0" stroke="#eeeeaa" stroke-width="1">
<rect x="1951" y="345" width="44" height="11"/><rect x="1951" y="357" width="44" height="11"/>
<rect x="1951" y="380" width="44" height="9"/><rect x="1951" y="390" width="44" height="11"/>
<rect x="1922" y="470" width="46" height="11"/><rect x="1922" y="482" width="46" height="11"/>
<rect x="1922" y="499" width="46" height="9"/><rect x="1922" y="509" width="46" height="11"/>
</g>
<g font-size="7" fill="#fff" text-anchor="middle" font-weight="bold">
<text x="1779" y="283">产品</text><text x="1779" y="293">A001</text>
<text x="1837" y="316">产品配置清单</text><text x="1837" y="329">A001*01</text><text x="1837" y="338">（试制、方案一）</text>
<text x="1909" y="356">零部件</text><text x="1909" y="369">零件&amp;组件</text>
<text x="2033" y="378">三维图纸</text><text x="2077" y="378">二维图纸</text><text x="2123" y="378">技术文件</text>
<text x="2033" y="396">工程图</text><text x="2123" y="396">材料</text>
<text x="1908" y="429">零部件</text><text x="1908" y="441">电气组件</text>
<text x="1953" y="455">电气图纸</text><text x="2006" y="455">技术文件</text>
<text x="1826" y="554">产品配置清单</text><text x="1826" y="571">A001*02</text><text x="1826" y="581">（量产、方案一）</text>
<text x="1826" y="653">产品配置清单</text><text x="1826" y="669">A001*02</text><text x="1826" y="680">（量产、方案二）</text>
<text x="2419" y="365">工艺路线GY001</text><text x="2411" y="568">工艺路线GY001</text><text x="2412" y="596">工艺路线GY002</text><text x="2411" y="668">工艺路线GY002</text>
</g>
<g font-size="6.5" fill="#c8c890" text-anchor="middle">
<text x="1973" y="353">零件</text><text x="1973" y="365">自制件</text><text x="1973" y="387">零件</text><text x="1973" y="398">标准件</text>
<text x="1945" y="478">零部件</text><text x="1945" y="490">电气件</text><text x="1945" y="506">零部件</text><text x="1945" y="517">电气件</text>
</g>
<g fill="#fff"><rect x="2110" y="319" width="17" height="10"/><rect x="2084" y="561" width="17" height="10"/><rect x="2084" y="660" width="17" height="10"/></g>
<g font-size="6.5" fill="#6fa8dc" text-anchor="middle"><text x="2118" y="327">工艺</text><text x="2092" y="569">工艺</text><text x="2092" y="668">工艺</text></g>

<!-- electrical cluster -->
<g stroke="#333" stroke-width="1.8" fill="none">
<polyline points="2124,457 2124,463 2118,463 2186,463 2186,468"/><line x1="2118" y1="463" x2="2118" y2="471"/>
<polyline points="2084,498 2093,498 2093,481 2103,481"/>
<polyline points="2118,492 2118,537 2134,537"/><line x1="2118" y1="512" x2="2134" y2="512"/>
</g>
<g stroke="#333" stroke-width="1.5">
<rect x="2102" y="436" width="45" height="21" fill="#fff"/><rect x="2102" y="436" width="45" height="7" fill="#c3d69b"/>
<rect x="2103" y="471" width="32" height="21" fill="#fff"/><rect x="2103" y="471" width="32" height="8" fill="#c3d69b"/>
<rect x="2168" y="468" width="35" height="25" fill="#fff"/><rect x="2168" y="468" width="35" height="10" fill="#c3d69b"/>
<rect x="2049" y="486" width="35" height="25" fill="#fff"/><rect x="2049" y="486" width="35" height="10" fill="#c3d69b"/>
<rect x="2134" y="501" width="39" height="22" fill="#fff"/><rect x="2134" y="501" width="39" height="9" fill="#333"/>
<rect x="2134" y="526" width="39" height="22" fill="#fff"/><rect x="2134" y="526" width="39" height="9" fill="#333"/>
</g>
<g font-size="5.5" text-anchor="middle" fill="#777">
<text x="2124" y="442">设计(原理图)</text><text x="2119" y="477">原理图组</text><text x="2185" y="476">PCB图</text><text x="2066" y="494">原理图</text><text x="2153" y="519">元器件1</text><text x="2153" y="544">元器件2</text>
</g>
<text x="2212" y="506" font-size="7" fill="#888">接口</text>
<polygon points="2207,522 2217,515 2217,519 2233,519 2233,526 2217,526 2217,529" fill="#fff" stroke="#222" stroke-width="1.5"/>
<rect x="2237" y="479" width="76" height="72" fill="#92d050" stroke="#6aa030" stroke-dasharray="2,1"/>
<text x="2275" y="489" font-size="6.5" fill="#1f6fc0" text-anchor="middle">原理图工具环境</text>
<rect x="2246" y="493" width="58" height="50" fill="#f1eff5" stroke="#222" stroke-width="1.5"/>
<g font-size="6" fill="#888" text-anchor="middle"><text x="2275" y="503">Altium</text><text x="2275" y="512">Designer</text><text x="2275" y="521">(原理图、</text><text x="2275" y="530">PCB)</text></g>
<text x="2275" y="540" font-size="6.5" fill="#ff2020" text-anchor="middle">硬件BOM</text>

<!-- 工艺 library -->
<rect x="2544" y="477" width="259" height="208" fill="#c9d6ec" stroke="#b5c3dc"/>
<text x="2673" y="493" font-size="7" fill="#4a7ac0" text-anchor="middle">工艺路线库</text>
<g stroke="#333" stroke-width="1.5">
<rect x="2552" y="507" width="67" height="26" fill="#c3d69b" stroke="#00b050"/><rect x="2552" y="533" width="67" height="13" fill="#fac090"/>
<rect x="2640" y="507" width="67" height="26" fill="#c3d69b" stroke="#00b050"/><rect x="2640" y="533" width="67" height="13" fill="#fac090"/>
<rect x="2723" y="507" width="67" height="26" fill="#c3d69b" stroke="#00b050"/><rect x="2723" y="533" width="67" height="13" fill="#fac090"/>
</g>
<g fill="#fff" stroke="#333" stroke-width="1.4">
<rect x="2552" y="546" width="67" height="14"/><rect x="2552" y="560" width="67" height="14"/><rect x="2552" y="574" width="67" height="14"/><rect x="2552" y="588" width="67" height="14"/><rect x="2552" y="602" width="67" height="14"/><rect x="2552" y="616" width="67" height="14"/><rect x="2552" y="630" width="67" height="14"/><rect x="2552" y="644" width="67" height="14"/><rect x="2552" y="658" width="67" height="14"/>
<rect x="2640" y="546" width="67" height="14"/><rect x="2640" y="560" width="67" height="14"/><rect x="2640" y="574" width="67" height="14"/><rect x="2640" y="588" width="67" height="14"/><rect x="2640" y="602" width="67" height="14"/><rect x="2640" y="616" width="67" height="14"/><rect x="2640" y="630" width="67" height="14"/><rect x="2640" y="644" width="67" height="14"/><rect x="2640" y="658" width="67" height="14"/>
<rect x="2723" y="546" width="67" height="14"/><rect x="2723" y="560" width="67" height="14"/><rect x="2723" y="574" width="67" height="14"/><rect x="2723" y="588" width="67" height="14"/><rect x="2723" y="602" width="67" height="14"/><rect x="2723" y="616" width="67" height="14"/><rect x="2723" y="630" width="67" height="14"/><rect x="2723" y="644" width="67" height="14"/><rect x="2723" y="658" width="67" height="14"/>
</g>
<g font-size="6.5" fill="#333" text-anchor="middle">
<text x="2585" y="518">工艺路线</text><text x="2585" y="529" fill="#777">GY001</text><text x="2673" y="518">工艺路线</text><text x="2673" y="529" fill="#777">GY002</text><text x="2756" y="518">工艺路线</text>
<text x="2585" y="543">制造工序详图</text><text x="2673" y="543">制造工序详图</text><text x="2756" y="543">制造工序详图</text>
</g>
<g font-size="6.5" fill="#555">
<text x="2555" y="556">10 黑膜</text><text x="2555" y="570">20 焊线</text><text x="2555" y="584">30 点胶/模压</text><text x="2555" y="598">40 声压/切割</text><text x="2555" y="612">50 分光</text><text x="2555" y="626">60 包装</text><text x="2555" y="640">70 贴标签</text>
<text x="2643" y="556">10 黑膜</text><text x="2643" y="570">20 焊线</text><text x="2643" y="584">30 点胶</text><text x="2643" y="598">40 声压/切割</text><text x="2643" y="612">50 分光</text><text x="2643" y="626">60 包装</text><text x="2643" y="640">70 贴标签</text>
<text x="2726" y="556">10 黑膜</text><text x="2726" y="570">20 焊线</text><text x="2726" y="584">30 点胶/模压</text><text x="2726" y="598">40 声压</text><text x="2726" y="612">50 分光</text><text x="2726" y="626">60 包装</text><text x="2726" y="640">70 贴标签</text>
</g>
<g fill="none" stroke="#8a5ab0" stroke-dasharray="2,2" stroke-width="1">
<path d="M2423 372 Q2560 390 2585 507"/>
<path d="M2447 566 Q2470 490 2585 507"/>
<path d="M2447 593 Q2560 610 2640 520"/>
<path d="M2447 665 Q2560 650 2580 605"/>
<path d="M2670 688 Q2640 740 2617 758"/>
</g>
<g font-size="6.5" fill="#6a8fc8"><text x="2520" y="414">调用</text><text x="2496" y="506">调用</text><text x="2548" y="596">调用</text><text x="2556" y="625">调用</text><text x="2623" y="738">调用</text></g>

<!-- up arrows -->
<g fill="#eee" stroke="#444" stroke-width="1">
<polygon points="1821,750 1825,750 1825,734 1829,734 1823,726 1817,734 1821,734"/>
<polygon points="2028,750 2032,750 2032,734 2036,734 2030,726 2024,734 2028,734"/>
<polygon points="2233,750 2237,750 2237,734 2241,734 2235,726 2229,734 2233,734"/>
<polygon points="2530,750 2534,750 2534,734 2538,734 2532,726 2526,734 2530,734"/>
<polygon points="2579,750 2583,750 2583,734 2587,734 2581,726 2575,734 2579,734"/>
</g>

<!-- ===== data basics row ===== -->
<rect x="1360" y="778" width="161" height="82" fill="#ff0000" stroke="#4a0000" stroke-width="1.5"/>
<text x="1440" y="825" font-size="18" class="w" text-anchor="middle">数据基础标准</text>
<rect x="1733" y="756" width="579" height="104" fill="#ffff00"/>
<g stroke="#222" stroke-width="1.5">
<rect x="1754" y="788" width="107" height="35" fill="#ffff00"/><rect x="1754" y="788" width="107" height="12" fill="#1f4e79"/>
<rect x="1892" y="788" width="107" height="35" fill="#ffff00"/><rect x="1892" y="788" width="107" height="12" fill="#1f4e79"/>
<rect x="2026" y="788" width="107" height="35" fill="#ffff00"/><rect x="2026" y="788" width="107" height="12" fill="#1f4e79"/>
<rect x="2159" y="788" width="112" height="35" fill="#ffff00"/><rect x="2159" y="788" width="112" height="12" fill="#1f4e79"/>
</g>
<g font-size="7.5" text-anchor="middle">
<text x="1807" y="797" class="w">编码规则库</text><text x="1807" y="815" fill="#888">编码服务</text>
<text x="1945" y="797" class="w">文档模板库</text><text x="1945" y="815" fill="#888">各类型文件模板</text>
<text x="2079" y="797" class="w">知识库</text><text x="2079" y="815" fill="#888">培训、知识、经验分享。</text>
<text x="2215" y="797" class="w">标准文件库</text><text x="2215" y="815" fill="#888">程序文件、行业标准。</text>
</g>
<rect x="2507" y="754" width="110" height="104" fill="#ffff00"/>
<g font-size="5.5" fill="#555"><text x="2540" y="771">文档编码</text><text x="2511" y="782">○ 标准文件名</text><text x="2511" y="796">○ 工艺文件名</text><text x="2511" y="807">○ 图纸名</text><text x="2511" y="818">○ 模具名</text><text x="2511" y="830">○ 文档编号</text><text x="2511" y="842">○ 版本号</text></g>

<!-- ===== PLM integration ===== -->
<text x="1604" y="908" font-size="17" fill="#111" text-anchor="middle">业务数据流动（集成）示意</text>
<rect x="1368" y="940" width="272" height="452" fill="#dbeef4" stroke="#444" stroke-width="1.5"/>
<line x1="1370" y1="1327" x2="1638" y2="1327" stroke="#aac" stroke-dasharray="2,2"/>
<text x="1504" y="950" font-size="6.5" fill="#4a7ac0" text-anchor="middle" text-decoration="underline">PLM 系统</text>
<rect x="1446" y="962" width="98" height="22" rx="10" fill="#000"/>
<text x="1495" y="977" font-size="8" class="w" text-anchor="middle">产品</text>
<g stroke="#222" stroke-width="1.5" fill="none"><line x1="1495" y1="984" x2="1495" y2="1002"/><polyline points="1441,1012 1441,1002 1573,1002 1573,1012"/>
<line x1="1454" y1="1191" x2="1454" y2="1304"/><line x1="1454" y1="1216" x2="1494" y2="1216"/><line x1="1454" y1="1246" x2="1494" y2="1246"/><line x1="1454" y1="1276" x2="1494" y2="1276"/><line x1="1454" y1="1304" x2="1494" y2="1304"/></g>
<rect x="1396" y="1012" width="90" height="69" fill="#dbeef4" stroke="#555" stroke-width="1.5"/><rect x="1396" y="1012" width="90" height="13" fill="#1f497d"/>
<rect x="1528" y="1012" width="90" height="69" fill="#dbeef4" stroke="#555" stroke-width="1.5"/><rect x="1528" y="1012" width="90" height="13" fill="#00b0f0"/>
<g font-size="7" text-anchor="middle"><text x="1441" y="1022" class="w">产品配置清单</text><text x="1441" y="1056" fill="#888">BOM</text>
<text x="1573" y="1022" class="w">产品文件</text><text x="1573" y="1040" fill="#888">技术文件</text><text x="1573" y="1061" fill="#888">产品图纸</text><text x="1573" y="1076" fill="#888">. . .</text></g>
<polygon points="1467,1093 1477,1093 1477,1133 1482,1133 1472,1147 1462,1133 1467,1133" fill="#8064a2" stroke="#3f3151"/>
<rect x="1497" y="1103" width="73" height="27" fill="#b2a2c7"/>
<text x="1533" y="1120" font-size="7" fill="#eee" text-anchor="middle">发布PBOM</text>
<rect x="1387" y="1161" width="216" height="159" fill="none" stroke="#777" stroke-dasharray="3,3"/>
<g fill="#00b050"><rect x="1406" y="1173" width="97" height="18" rx="8"/><rect x="1494" y="1208" width="96" height="17" rx="8"/><rect x="1494" y="1238" width="96" height="16" rx="8"/><rect x="1494" y="1268" width="96" height="16" rx="8"/><rect x="1494" y="1296" width="96" height="17" rx="8"/></g>
<g font-size="7.5" class="w" text-anchor="middle"><text x="1454" y="1185">PBOM 包</text><text x="1542" y="1220">物料</text><text x="1542" y="1249">BOM</text><text x="1542" y="1279">工艺路线</text><text x="1542" y="1308">图文档</text></g>
<g fill="none" stroke="#555" stroke-dasharray="2,2"><path d="M1618 1050 Q1700 1100 1759 1203"/><path d="M1603 1245 Q1680 1285 1759 1277"/><path d="M1759 1330 Q1700 1200 1640 1130"/></g>
<rect x="1759" y="1180" width="119" height="46" fill="#31849b" stroke="#333" stroke-width="1.5"/><rect x="1763" y="1202" width="111" height="20" fill="#fff" stroke="#333"/>
<rect x="1759" y="1233" width="119" height="70" fill="#0070c0" stroke="#333" stroke-width="1.5"/><rect x="1763" y="1255" width="111" height="43" fill="#fff" stroke="#333"/>
<rect x="1759" y="1309" width="119" height="93" fill="#31849b" stroke="#333" stroke-width="1.5"/><rect x="1763" y="1330" width="111" height="62" fill="#fff" stroke="#333"/>
<g font-size="7.5" fill="#fff" text-anchor="middle" text-decoration="underline"><text x="1818" y="1194">MES系统</text><text x="1818" y="1247">SAP系统</text><text x="1818" y="1323">OA系统</text></g>
<g font-size="6.5" fill="#777"><text x="1766" y="1213">图纸</text><text x="1766" y="1265">1、物料</text><text x="1766" y="1276">2、BOM</text><text x="1766" y="1287">3、工艺路线</text>
<text x="1766" y="1340">1、组织架构</text><text x="1766" y="1351">2、消息</text><text x="1766" y="1362">3、OA表单模板</text><text x="1766" y="1373">4、OA表单链接</text><text x="1766" y="1384">5、文档模板</text></g>
<rect x="1718" y="1438" width="178" height="52" fill="#ff0000" stroke="#4a0000" stroke-width="1.5"/>
<text x="1807" y="1470" font-size="18" class="w" text-anchor="middle">系统数据关联</text>

<!-- ===== Blueprint ===== -->
<text x="2430" y="936" font-size="18" fill="#111" text-anchor="middle">聚飞光电PLM 项目蓝图业务管理</text>
<rect x="2174" y="958" width="250" height="218" fill="none" stroke="#333" stroke-width="2"/>
<rect x="2488" y="958" width="278" height="218" fill="none" stroke="#333" stroke-width="2"/>
<g class="sm">
<text x="2177" y="973">1、年度规划项目清单</text><text x="2177" y="988">2、项目模板设计(产品开发、其他模板)</text><text x="2177" y="1005">3、项目策划（以模板为基准进行实例项目策划）</text><text x="2177" y="1021">4、计划分解（多级计划分解）</text><text x="2177" y="1037">5、任务执行（工程师接受任务到完成）</text><text x="2177" y="1053">6、项目状态控制（启动/执行/暂停/恢复/终止/完成）</text><text x="2177" y="1070">7、项目变更（立项内变更和立项外变更）</text><text x="2177" y="1086">8、在研项目监控（项目状态）</text><text x="2177" y="1102">9、在研项目任务看板管理（项目内任务状态）</text><text x="2177" y="1118">10、项目绩效统计分析（分析监控）</text><text x="2177" y="1135">11、项目采购管理</text><text x="2177" y="1150">12、产品管理（分类+属性+BOM）</text>
<text x="2491" y="973">13、产品设计管理（含机械设计软件接口）</text><text x="2491" y="988">14、电子设计管理（含电子设计软件接口）</text><text x="2491" y="1005">15、图档管理</text><text x="2491" y="1021">16、技术文档管理</text><text x="2491" y="1037">17、工艺基础库管理（工艺路线库、标准工序等）</text><text x="2491" y="1053">18、工艺管理（工艺路线-工艺文件）</text><text x="2491" y="1070">19、产品变更管理</text><text x="2491" y="1086">20、知识库管理（知识库、标准文档）</text><text x="2491" y="1102">21、文档模板管理</text><text x="2491" y="1118">22、发布PBOM管理</text><text x="2491" y="1135">23、编码管理（服务与规则）</text><text x="2491" y="1150">24、流程管理（定义与规则）</text>
</g>
<text x="2437" y="1208" font-size="18" fill="#111" text-anchor="middle">聚飞光电PLM 项目数据标准化与筹备作</text>
<text x="2437" y="1229" font-size="18" fill="#111" text-anchor="middle">业清单</text>
<g fill="none" stroke="#333" stroke-width="2">
<rect x="1994" y="1244" width="161" height="180"/><rect x="2159" y="1244" width="161" height="202"/><rect x="2323" y="1244" width="161" height="202"/><rect x="2488" y="1244" width="161" height="165"/><rect x="2653" y="1244" width="177" height="202"/>
</g>
<g font-size="8" fill="#5a5a5a">
<text x="1997" y="1257">第一部分：模板标准化<tspan class="r">(优先级2)</tspan></text>
<text x="1997" y="1287">1、项目模板标准化作业(三大类型)，</text><text x="1997" y="1302">（依据思普提供的Excel模板(直接在测试</text><text x="1997" y="1319">系统中建立，包括项目模板签审流程)</text><text x="1997" y="1335">2、文件模板标准化（按类型整理标准</text><text x="1997" y="1352">格式模板）；</text>
<text x="2162" y="1257">第二部分：属性描述标准化<tspan class="r">(优先级1)</tspan></text>
<text x="2162" y="1287">3、年度规划清单属性标准化</text><text x="2162" y="1302">4、项目属性标准化描述</text><text x="2162" y="1319">5、项目采购管理属性标准化</text><text x="2162" y="1335">6、产品属性标准化描述</text><text x="2162" y="1352">7、零部件（物料/BOM）属性标准化描</text><text x="2162" y="1368">述（设计属性要求 <tspan class="r">非常关键</tspan>）</text><text x="2162" y="1385">8、技术文件属性标准化</text>
<text x="2326" y="1257">第三部分：基础数据标准化<tspan class="r">(优先级4)</tspan></text>
<text x="2326" y="1287">9、知识库整理</text><text x="2326" y="1302">10、标准文件库整理</text><text x="2326" y="1319">11、工艺路线库（<tspan class="r">非常关键</tspan>）</text><text x="2326" y="1335">12、标准工序库整理</text>
<text x="2491" y="1257">第四部分：业务支撑标准化<tspan class="r">(优先级3)</tspan></text>
<text x="2491" y="1287">13、编码规则文件定稿(需要项目编码、</text><text x="2491" y="1302">物料编码、采购编码、文件编码)（<tspan class="r">非常</tspan></text><text x="2491" y="1319"><tspan class="r">关键</tspan>）</text><text x="2491" y="1335">14、签审流程（整理+系统内绘制）</text><text x="2491" y="1352" class="r">（工作量较大）</text>
<text x="2656" y="1257">第五部分：产品数据<tspan class="r">(优先级5)</tspan></text>
<text x="2656" y="1287">15、蓝图实现验证数据，（<tspan class="r">非常关键</tspan>）</text><text x="2656" y="1302">X套完整典型项目产品数据（<tspan class="r">非常关键</tspan></text><text x="2656" y="1319"><tspan class="r">键</tspan>）</text><text x="2656" y="1335">16、技术储备数据上线，</text><text x="2660" y="1352">a、历史产品数据（<tspan class="r">工作量大</tspan>）</text><text x="2660" y="1368">b、在研产品数据（<tspan class="r">规范、标准</tspan>）</text><text x="2656" y="1385">17、上线筹备数据，上线时正在开发的产品</text><text x="2656" y="1401">（在研产品）数据（<tspan class="r">规范、标准、不折不扣</tspan></text><text x="2656" y="1417"><tspan class="r">完成</tspan>）</text>
</g>
</svg>
</body></html>
